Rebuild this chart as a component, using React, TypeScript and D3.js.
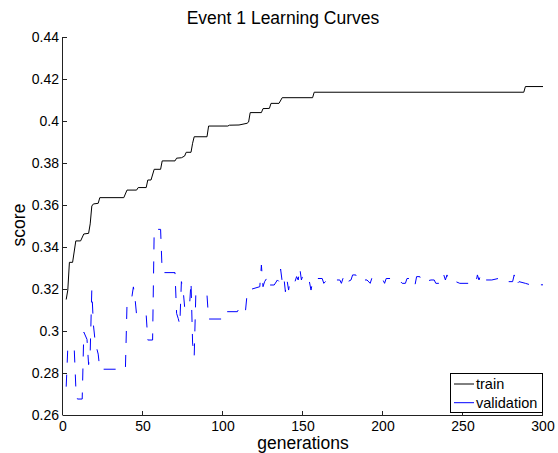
import React from 'react';
import * as d3 from 'd3';

// [generation, score]
const trainData: [number, number][] = [
  [2, 0.315], [3, 0.3195], [4, 0.3327], [6, 0.3327], [8, 0.3429], [11, 0.3429], [13, 0.3462],
  [16, 0.3465], [17, 0.351], [18, 0.3595], [19, 0.3605], [22, 0.3608], [23, 0.3635],
  [38, 0.3635], [40, 0.3671], [46, 0.3671], [47, 0.3683], [52, 0.3683], [53, 0.3719],
  [55, 0.3719], [57, 0.377], [61, 0.377], [62, 0.381], [70, 0.381], [71, 0.3823],
  [74, 0.3825], [76, 0.3833], [77, 0.3851], [80, 0.3851], [81, 0.3894], [82, 0.3925],
  [90, 0.3925], [91, 0.3976], [103, 0.3976], [104, 0.398], [110, 0.3981], [115, 0.3989],
  [116, 0.3995], [117, 0.404], [124, 0.404], [125, 0.4059], [129, 0.406], [130, 0.4084],
  [135, 0.4084], [137, 0.4111], [156, 0.4111], [157, 0.4137], [288, 0.4137], [289, 0.4164],
  [300, 0.4164],
];

const validationData: [number, number][] = [
  [2, 0.2735], [3, 0.292], [7, 0.292], [8, 0.2735], [9, 0.2676], [12, 0.2676], [13, 0.2995],
  [15, 0.296], [16, 0.284], [17, 0.29], [18, 0.3195], [19, 0.303], [20, 0.2957], [21, 0.292],
  [22, 0.289], [23, 0.2818], [38, 0.2818], [39, 0.2818], [40, 0.3124], [43, 0.316],
  [44, 0.321], [45, 0.3157], [46, 0.3076], [52, 0.3076], [53, 0.2957], [56, 0.2957],
  [57, 0.3484], [61, 0.3484], [62, 0.3278], [70, 0.3278], [71, 0.3084], [72, 0.306],
  [73, 0.303], [74, 0.3235], [75, 0.3203], [76, 0.3116], [77, 0.3108], [79, 0.3108],
  [80, 0.3235], [81, 0.2943], [82, 0.2878], [83, 0.3171], [90, 0.3171], [91, 0.3057],
  [100, 0.3057], [101, 0.3092], [109, 0.3092], [110, 0.3108], [111, 0.3092], [114, 0.3092],
  [115, 0.3171], [116, 0.3195], [123, 0.3211], [124, 0.3314], [125, 0.3211], [126, 0.3235],
  [128, 0.3259], [129, 0.3219], [132, 0.3219], [134, 0.3243], [135, 0.3235], [136, 0.3295],
  [137, 0.3235], [138, 0.3259], [139, 0.3187], [140, 0.3243], [141, 0.3195], [142, 0.3243],
  [145, 0.3235], [146, 0.3259], [147, 0.3243], [148, 0.33], [149, 0.3243], [150, 0.3267],
  [152, 0.3259], [154, 0.3235], [155, 0.3195], [156, 0.3235], [158, 0.3235], [159, 0.325],
  [162, 0.325], [163, 0.3227], [165, 0.3243], [173, 0.3243], [174, 0.3227], [175, 0.3251],
  [176, 0.3235], [177, 0.3251], [178, 0.3235], [180, 0.3243], [181, 0.3267], [183, 0.3267],
  [184, 0.3243], [190, 0.3243], [192, 0.3227], [193, 0.3251], [197, 0.3243], [200, 0.3243],
  [201, 0.3227], [202, 0.325], [206, 0.325], [210, 0.3243], [212, 0.3227], [214, 0.3227],
  [215, 0.325], [219, 0.325], [220, 0.3219], [221, 0.3259], [223, 0.3259], [224, 0.3235],
  [226, 0.3235], [230, 0.3243], [232, 0.3243], [233, 0.3227], [237, 0.3227], [238, 0.3267],
  [239, 0.3243], [240, 0.3267], [241, 0.3243], [243, 0.3243], [248, 0.3227], [256, 0.3227],
  [258, 0.3227], [259, 0.3267], [260, 0.3243], [261, 0.3267], [262, 0.3243], [268, 0.3243],
  [272, 0.325], [274, 0.3235], [281, 0.3235], [282, 0.3267], [283, 0.3219], [285, 0.3235],
  [289, 0.3227], [292, 0.322], [300, 0.322],
];

const xTicks = [0, 50, 100, 150, 200, 250, 300];
const yTicks = [0.26, 0.28, 0.3, 0.32, 0.34, 0.36, 0.38, 0.4, 0.42, 0.44];
const yTickLabels = ['0.26', '0.28', '0.3', '0.32', '0.34', '0.36', '0.38', '0.4', '0.42', '0.44'];
const seriesNames = ['train', 'validation'];
const seriesColors = ['#000000', '#0000ff'];

const W = 558;
const H = 453;
const FONT = '"Liberation Sans", Arial, sans-serif';

export default function App() {
  const x = d3.scaleLinear().domain([0, 300]).range([63, 543]);
  const y = d3.scaleLinear().domain([0.26, 0.44]).range([415, 37]);
  const line = d3
    .line<[number, number]>()
    .x((d) => x(d[0]))
    .y((d) => y(d[1]));

  const x0 = x(0);
  const y0 = y(0.26);

  return (
    <svg
      width={W}
      height={H}
      style={{ position: 'absolute', left: 0, top: 0, background: '#fff' }}
      fontFamily={FONT}
    >
      <rect x={0} y={0} width={W} height={H} fill="#fff" />
      {/* data lines */}
      <path d={line(trainData) || ''} fill="none" stroke={seriesColors[0]} strokeWidth={1} />
      <path
        d={line(validationData) || ''}
        fill="none"
        stroke={seriesColors[1]}
        strokeWidth={1}
        strokeDasharray="12,12"
      />
      {/* axes */}
      <line x1={x0 - 0.5} x2={x0 - 0.5} y1={y(0.44)} y2={y0} stroke="#222" strokeWidth={1} />
      <line x1={x0 - 0.5} x2={x(300)} y1={y0 + 0.5} y2={y0 + 0.5} stroke="#222" strokeWidth={1} />
      {yTicks.map((t, i) => (
        <g key={'y' + i}>
          <line x1={x0} x2={x0 + 4} y1={y(t) + 0.5} y2={y(t) + 0.5} stroke="#222" strokeWidth={1} />
          <text x={x0 - 4} y={y(t) + 5} fontSize={14} textAnchor="end" fill="#000">
            {yTickLabels[i]}
          </text>
        </g>
      ))}
      {xTicks.map((t, i) => (
        <g key={'x' + i}>
          <line x1={x(t) - 0.5} x2={x(t) - 0.5} y1={y0} y2={y0 - 4} stroke="#222" strokeWidth={1} />
          <text x={x(t)} y={431} fontSize={14} textAnchor="middle" fill="#000">
            {t}
          </text>
        </g>
      ))}
      {/* title and labels */}
      <text x={283} y={24} fontSize={17.5} textAnchor="middle" fill="#000">
        Event 1 Learning Curves
      </text>
      <text x={303} y={449} fontSize={17.5} textAnchor="middle" fill="#000">
        generations
      </text>
      <text
        transform={`translate(25,225) rotate(-90)`}
        fontSize={17.5}
        textAnchor="middle"
        fill="#000"
      >
        score
      </text>
      {/* legend */}
      <rect x={450.5} y={373.5} width={92} height={39} fill="#fff" stroke="#000" strokeWidth={1} />
      {seriesNames.map((n, i) => (
        <g key={n}>
          <line
            x1={454}
            x2={474}
            y1={384 + i * 18.7}
            y2={384 + i * 18.7}
            stroke={seriesColors[i]}
            strokeWidth={1}
          />
          <text x={476} y={389 + i * 18.7} fontSize={14.5} fill="#000">
            {n}
          </text>
        </g>
      ))}
    </svg>
  );
}
